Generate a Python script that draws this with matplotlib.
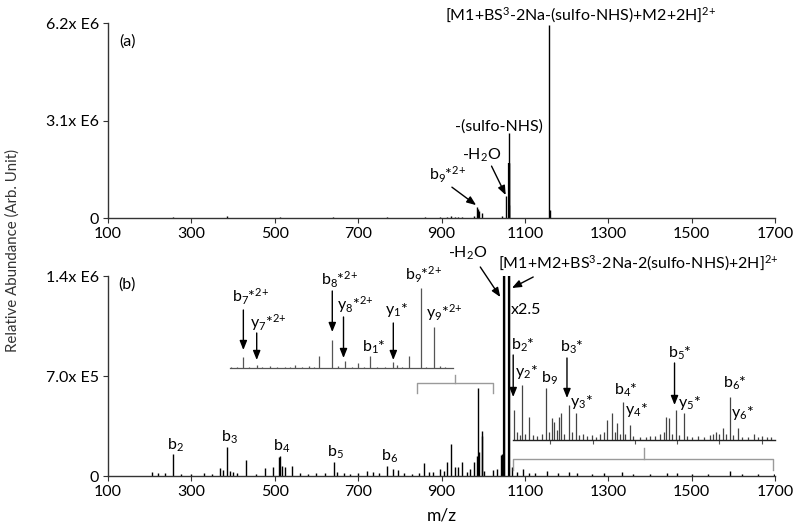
import matplotlib
matplotlib.use('Agg')
import matplotlib.pyplot as plt

plt.rcParams['font.family'] = ['Lato', 'DejaVu Sans']
plt.rcParams['mathtext.fontset'] = 'custom'
plt.rcParams['mathtext.rm'] = 'Lato'
plt.rcParams['mathtext.it'] = 'Lato:italic'
plt.rcParams['mathtext.bf'] = 'Lato:bold'
plt.rcParams['mathtext.default'] = 'regular'

# ---------------- data ----------------
x_ticks = [100, 300, 500, 700, 900, 1100, 1300, 1500, 1700]
ya_ticks = [0, 3.1e6, 6.2e6]
ya_labels = ['0', '3.1x E6', '6.2x E6']
yb_ticks = [0, 7.0e5, 1.4e6]
yb_labels = ['0', '7.0x E5', '1.4x E6']

# panel (a) stick spectrum (m/z, abundance)
mz_a = [205, 257, 385, 430, 513, 640, 770, 860, 897, 913, 923, 933, 940, 950,
        978, 986, 988, 991, 997, 1045, 1054, 1061, 1062, 1063, 1158, 1160]
ab_a = [0.01e6, 0.02e6, 0.06e6, 0.015e6, 0.04e6, 0.02e6, 0.02e6, 0.02e6, 0.03e6,
        0.04e6, 0.05e6, 0.03e6, 0.03e6, 0.04e6, 0.05e6, 0.35e6, 0.30e6, 0.21e6,
        0.16e6, 0.06e6, 0.69e6, 2.70e6, 1.75e6, 0.40e6, 6.14e6, 0.25e6]

# panel (b) stick spectrum (m/z, abundance)
mz_b = [205, 221, 237, 257, 275, 300, 330, 350, 369, 376, 385, 392, 400, 410, 430,
        455, 477, 495, 509, 513, 518, 525, 542, 560, 580, 600, 620, 642, 650, 665,
        680, 700, 721, 735, 750, 770, 783, 795, 810, 830, 845, 859, 870, 880, 897,
        905, 913, 923, 933, 940, 950, 960, 969, 978, 984, 988, 991, 996, 998, 1003,
        1024, 1033, 1042, 1046, 1050, 1061, 1069, 1080, 1095, 1110, 1125, 1153,
        1180, 1205, 1225, 1260, 1290, 1334, 1360, 1400, 1440, 1465, 1500, 1540,
        1591, 1620, 1660, 1698]
ab_b = [28e3, 21e3, 21e3, 154e3, 14e3, 14e3, 21e3, 14e3, 56e3, 42e3, 203e3, 35e3,
        28e3, 21e3, 112e3, 14e3, 56e3, 63e3, 133e3, 140e3, 70e3, 63e3, 70e3, 21e3,
        14e3, 21e3, 21e3, 98e3, 28e3, 21e3, 14e3, 21e3, 35e3, 28e3, 21e3, 70e3,
        49e3, 42e3, 21e3, 14e3, 21e3, 91e3, 28e3, 28e3, 49e3, 35e3, 98e3, 224e3,
        63e3, 63e3, 98e3, 28e3, 49e3, 98e3, 140e3, 616e3, 168e3, 315e3, 280e3,
        35e3, 42e3, 49e3, 147e3, 154e3, 1.5e6, 1.5e6, 63e3, 28e3, 49e3, 21e3,
        21e3, 35e3, 21e3, 28e3, 21e3, 14e3, 21e3, 28e3, 14e3, 14e3, 21e3, 21e3,
        14e3, 14e3, 35e3, 14e3, 14e3, 14e3]

# left inset (zoom of 845-1012), relative heights
mz_l = [846, 850, 855, 859, 865, 869, 875, 880, 886, 890, 894, 899, 904, 908, 912,
        921.5, 926, 931, 936, 940.5, 945, 950, 955, 961, 967, 970, 974, 979, 988,
        992, 997.5, 1002, 1006]
ab_l = [1.5, 1.5, 11, 1, 3, 1, 2.5, 1, 1, 1.5, 3.5, 1, 2, 1, 12, 28, 2, 7, 1, 5, 1,
        12, 1, 1, 6, 3, 1, 12, 80, 1.5, 41, 2, 1]

# right inset (x2.5, 1070-1700), relative heights
mz_r = [1075, 1080, 1088, 1094, 1100, 1111, 1120, 1130, 1140, 1151, 1158, 1165,
        1170, 1176, 1181, 1187, 1195, 1205, 1212, 1223, 1230, 1240, 1250, 1262,
        1270, 1280, 1290, 1298, 1308, 1315, 1321, 1328, 1335, 1340, 1353, 1360,
        1375, 1390, 1400, 1412, 1425, 1433, 1439, 1445, 1452, 1463, 1470, 1482,
        1490, 1500, 1515, 1530, 1545, 1552, 1559, 1566, 1575, 1583, 1593, 1600,
        1611, 1620, 1635, 1649, 1660, 1669, 1680, 1690]
ab_r = [30, 8, 5, 55, 6, 23, 5, 4, 6, 52, 8, 22, 18, 10, 23, 27, 6, 35, 8, 27, 5,
        6, 4, 5, 3, 6, 8, 20, 27, 8, 17, 6, 38, 6, 15, 4, 3, 3, 4, 4, 6, 8, 23, 22,
        6, 30, 5, 27, 4, 3, 4, 3, 5, 6, 8, 6, 12, 6, 43, 5, 12, 3, 3, 6, 3, 4, 3, 3]
inset_r_ticks = [1161, 1263, 1364, 1465, 1566, 1668]

# ---------------- layout ----------------
W, H = 800, 530
fig = plt.figure(figsize=(W / 100, H / 100), dpi=100)


def box(x0, y_top, x1, y_bot):
    return [x0 / W, 1 - y_bot / H, (x1 - x0) / W, (y_bot - y_top) / H]


def fxy(x, y):
    return (x / W, 1 - y / H)


AX_COL = '#333333'
GREY = '#9a9a9a'
FS = 11.5
SUP = r'$^{2{+}}$'

ax_a = fig.add_axes(box(108, 23, 775, 218))
ax_b = fig.add_axes(box(108, 276, 775, 476))

for ax, yt, yl in ((ax_a, ya_ticks, ya_labels), (ax_b, yb_ticks, yb_labels)):
    ax.set_xlim(100, 1700)
    ax.set_ylim(0, yt[-1])
    ax.set_xticks(x_ticks)
    ax.set_xticklabels([str(v) for v in x_ticks], fontsize=FS)
    ax.set_yticks(yt)
    ax.set_yticklabels(yl, fontsize=FS)
    for s in ('top', 'right'):
        ax.spines[s].set_visible(False)
    for s in ('left', 'bottom'):
        ax.spines[s].set_color(AX_COL)
        ax.spines[s].set_linewidth(1.0)
    ax.tick_params(axis='both', direction='out', length=3.5, width=0.8,
                   color=AX_COL, labelcolor='black', pad=3)
    ax.patch.set_alpha(0)

ax_a.vlines(mz_a, 0, ab_a, color='black', lw=1.0)
ax_a.vlines([1062], 0, [1.75e6], color='black', lw=1.6)
ax_b.vlines(mz_b, 0, ab_b, color='black', lw=1.0)
ax_b.vlines([1050, 1061], 0, [1.5e6, 1.5e6], color='black', lw=1.6)
ax_b.set_xlabel('m/z', fontsize=12.5, labelpad=6)

fig.text(13 / W, 1 - 250 / H, 'Relative Abundance (Arb. Unit)', rotation=90,
         ha='center', va='center', fontsize=10.8, color='#333333')

# ---- left inset ----
ax_l = fig.add_axes(box(230, 268, 453, 368))
ax_l.set_xlim(845, 1012)
ax_l.set_ylim(0, 100)
ax_l.vlines(mz_l, 0, ab_l, color='#555555', lw=0.9)
for s in ('top', 'right', 'left'):
    ax_l.spines[s].set_visible(False)
ax_l.spines['bottom'].set_color('#555555')
ax_l.spines['bottom'].set_linewidth(0.9)
ax_l.set_xticks([])
ax_l.set_yticks([])
ax_l.patch.set_alpha(0)

# ---- right inset (same x scale as main) ----
ax_r = fig.add_axes(box(108, 340, 775, 440))
ax_r.set_xlim(100, 1700)
ax_r.set_ylim(0, 100)
ax_r.vlines(mz_r, 0, ab_r, color='#444444', lw=0.9)
for s in ('top', 'right', 'left'):
    ax_r.spines[s].set_visible(False)
ax_r.spines['bottom'].set_bounds(1072, 1700)
ax_r.spines['bottom'].set_color('#222222')
ax_r.spines['bottom'].set_linewidth(1.0)
ax_r.set_xticks(inset_r_ticks)
ax_r.set_xticklabels([])
ax_r.tick_params(axis='x', direction='out', length=3, width=0.8, color='#555555')
ax_r.set_yticks([])
ax_r.patch.set_alpha(0)


# ---- brackets (grey) in panel (b) data coords ----
def bracket(ax, x0, x1, xc, y, y_end, y_top):
    ax.plot([x0, x0, x1, x1], [y_end, y, y, y_end], color=GREY, lw=1.0,
            clip_on=False, solid_joinstyle='round')
    ax.plot([xc, xc], [y, y_top], color=GREY, lw=1.0, clip_on=False)


bracket(ax_b, 841, 1024, 933, 651e3, 581e3, 707e3)
bracket(ax_b, 1072, 1696, 1386, 119e3, 42e3, 196e3)

# ---------------- annotations ----------------
ARW = dict(arrowstyle='-|>,head_width=0.22,head_length=0.55', color='black',
           lw=1.0, shrinkA=0, shrinkB=0)


def label(x, y, s, fs=FS, ha='center'):
    fig.text(*fxy(x, y), s, ha=ha, va='center', fontsize=fs, color='black')


def arrow(ax, xy, xytext, coords='data'):
    ax.annotate('', xy=xy, xytext=xytext, xycoords='data', textcoords=coords,
                arrowprops=ARW, annotation_clip=False)


# panel (a)
label(127, 42, '(a)')
label(581, 15, '[M1+BS$^3$-2Na-(sulfo-NHS)+M2+2H]' + SUP)
label(499, 127, '-(sulfo-NHS)')
label(482, 155, '-H$_2$O')
label(448, 175, 'b$_9$*' + SUP)
arrow(ax_a, (1054, 0.73e6), (1020, 1.65e6))
arrow(ax_a, (983, 0.41e6), (925, 0.98e6))

# panel (b) main
label(127, 285, '(b)')
label(468, 253, '-H$_2$O')
label(498, 263, '[M1+M2+BS$^3$-2Na-2(sulfo-NHS)+2H]' + SUP, ha='left')
arrow(ax_b, (1041, 1.253e6), (993, 1.463e6))
arrow(ax_b, (1069, 1.316e6), (1120, 1.393e6))
label(526, 310, 'x2.5')
label(175, 445, 'b$_2$')
label(229, 437, 'b$_3$')
label(282, 446, 'b$_4$')
label(335, 452, 'b$_5$')
label(390, 456, 'b$_6$')

# left inset labels
label(251, 297, 'b$_7$*' + SUP)
label(268, 323, 'y$_7$*' + SUP)
label(340, 280, 'b$_8$*' + SUP)
label(355, 305, 'y$_8$*' + SUP)
label(374, 347, 'b$_1$*')
label(397, 310, 'y$_1$*')
label(424, 275, 'b$_9$*' + SUP)
label(444, 313, 'y$_9$*' + SUP)
arrow(ax_l, (855, 18), (855, 58))
arrow(ax_l, (865, 8), (865, 35))
arrow(ax_l, (921.6, 36), (921.6, 77))
arrow(ax_l, (930, 10), (930, 51))
arrow(ax_l, (967.3, 8), (967.3, 45))

# right inset labels
label(523, 345, 'b$_2$*')
label(527, 372, 'y$_2$*')
label(549, 378, 'b$_9$')
label(572, 347, 'b$_3$*')
label(582, 402, 'y$_3$*')
label(626, 390, 'b$_4$*')
label(637, 410, 'y$_4$*')
label(680, 353, 'b$_5$*')
label(690, 403, 'y$_5$*')
label(735, 383, 'b$_6$*')
label(743, 413, 'y$_6$*')
arrow(ax_r, (1072, 43), (1072, 85))
arrow(ax_r, (1201, 42), (1201, 82))
arrow(ax_r, (1459, 35), (1459, 77))

fig.savefig('out.png', dpi=100)
